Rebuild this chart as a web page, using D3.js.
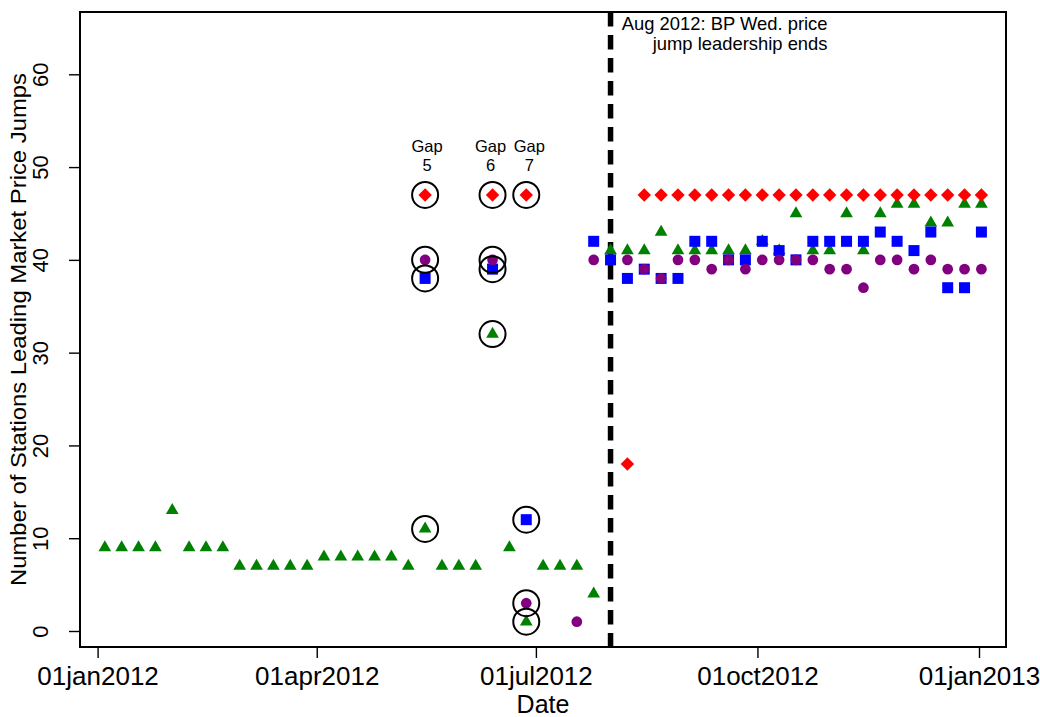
<!DOCTYPE html>
<html><head><meta charset="utf-8">
<script src="https://cdn.jsdelivr.net/npm/d3@7"></script>
<style>
body{margin:0;background:#fff}
svg{display:block}
text{font-family:"Liberation Sans",Arial,Helvetica,sans-serif;fill:#000}
</style>
</head><body>
<svg id="chart" width="1040" height="717"></svg>
<script>
// ---------------- DATA ----------------
const weeks = [
  "2012-01-04","2012-01-11","2012-01-18","2012-01-25","2012-02-01","2012-02-08","2012-02-15","2012-02-22",
  "2012-02-29","2012-03-07","2012-03-14","2012-03-21","2012-03-28","2012-04-04","2012-04-11","2012-04-18",
  "2012-04-25","2012-05-02","2012-05-09","2012-05-16","2012-05-23","2012-05-30","2012-06-06","2012-06-13",
  "2012-06-20","2012-06-27","2012-07-04","2012-07-11","2012-07-18","2012-07-25","2012-08-01","2012-08-08",
  "2012-08-15","2012-08-22","2012-08-29","2012-09-05","2012-09-12","2012-09-19","2012-09-26","2012-10-03",
  "2012-10-10","2012-10-17","2012-10-24","2012-10-31","2012-11-07","2012-11-14","2012-11-21","2012-11-28",
  "2012-12-05","2012-12-12","2012-12-19","2012-12-26","2013-01-02"
];
const greenVals = [
  9,9,9,9,13,9,9,9,
  7,7,7,7,7,8,8,8,
  8,8,7,11,7,7,7,32,
  9,1,7,7,7,4,41,41,
  41,43,41,41,41,41,41,42,
  41,45,41,41,45,41,45,46,
  46,44,44,46,46
];
const blueVals = [
  null,null,null,null,null,null,null,null,
  null,null,null,null,null,null,null,null,
  null,null,null,38,null,null,null,39,
  null,12,null,null,null,42,40,38,
  39,38,38,42,42,40,40,42,
  41,40,42,42,42,42,43,42,
  41,43,37,37,43
];
const purpleVals = [
  null,null,null,null,null,null,null,null,
  null,null,null,null,null,null,null,null,
  null,null,null,40,null,null,null,40,
  null,3,null,null,1,40,null,40,
  39,38,40,40,39,40,39,40,
  40,40,40,39,39,37,40,40,
  39,40,39,39,39
];
const redVals = [
  null,null,null,null,null,null,null,null,
  null,null,null,null,null,null,null,null,
  null,null,null,47,null,null,null,47,
  null,47,null,null,null,null,null,18,
  47,47,47,47,47,47,47,47,
  47,47,47,47,47,47,47,47,
  47,47,47,47,47
];
const gapWeeks = ["2012-05-16","2012-06-13","2012-06-27"];
const gapNumbers = ["5","6","7"];
const xTickDates = ["2012-01-01","2012-04-01","2012-07-01","2012-10-01","2013-01-01"];
const xTickLabels = ["01jan2012","01apr2012","01jul2012","01oct2012","01jan2013"];
const yTicks = [0,10,20,30,40,50,60];
const eventDate = "2012-08-01";
const eventLines = ["Aug 2012: BP Wed. price","jump leadership ends"];
const xTitle = "Date";
const yTitle = "Number of Stations Leading Market Price Jumps";

// ---------------- DRAW ----------------
const parse = d3.timeParse("%Y-%m-%d");
const svg = d3.select("#chart");
const W = 1040, H = 717;
svg.append("rect").attr("width",W).attr("height",H).attr("fill","#fff");

const plot = {left:80, right:1006, top:12, bottom:647};
const x = d3.scaleTime().domain([parse("2012-01-01"), parse("2013-01-01")]).range([97.6, 979]);
const y = d3.scaleLinear().domain([0,60]).range([631, 74.3]);

// frame
svg.append("rect")
  .attr("x",plot.left).attr("y",plot.top)
  .attr("width",plot.right-plot.left).attr("height",plot.bottom-plot.top)
  .attr("fill","none").attr("stroke","#000").attr("stroke-width",2);

// x axis
const xAxis = d3.axisBottom(x)
  .tickValues(xTickDates.map(parse))
  .tickFormat((d,i)=>xTickLabels[i])
  .tickSize(11).tickPadding(0);
const gx = svg.append("g").attr("transform",`translate(0,${plot.bottom})`).call(xAxis);
gx.select(".domain").remove();
gx.selectAll(".tick line").attr("stroke","#000").attr("stroke-width",1.4);
gx.selectAll(".tick text").attr("font-size",26).attr("dy",null).attr("y",38)
  .attr("font-family",'"Liberation Sans",Arial,sans-serif').attr("fill","#000");

// y axis
const yAxis = d3.axisLeft(y).tickValues(yTicks).tickSize(11).tickFormat(d3.format("d"));
const gy = svg.append("g").attr("transform",`translate(${plot.left},0)`).call(yAxis);
gy.select(".domain").remove();
gy.selectAll(".tick line").attr("stroke","#000").attr("stroke-width",1.4);
gy.selectAll(".tick text")
  .attr("x",null).attr("dy",null)
  .attr("transform","translate(-32,0) rotate(-90)")
  .attr("text-anchor","middle")
  .attr("font-size",22)
  .attr("font-family",'"Liberation Sans",Arial,sans-serif').attr("fill","#000");

// axis titles
svg.append("text").attr("x",(plot.left+plot.right)/2).attr("y",713)
  .attr("text-anchor","middle").attr("font-size",25).text(xTitle);
svg.append("text")
  .attr("transform",`translate(26,${(plot.top+plot.bottom)/2}) rotate(-90)`)
  .attr("text-anchor","middle").attr("font-size",22.5)
  .attr("textLength",513).attr("lengthAdjust","spacingAndGlyphs")
  .text(yTitle);

// event line
const ex = x(parse(eventDate));
svg.append("line").attr("x1",ex).attr("x2",ex).attr("y1",plot.top).attr("y2",plot.bottom)
  .attr("stroke","#000").attr("stroke-width",5.5).attr("stroke-dasharray","14.5,8.5");
const evText = svg.append("text").attr("text-anchor","end").attr("font-size",18.4);
eventLines.forEach((t,i)=>{
  evText.append("tspan").attr("x",ex+217).attr("y",30+i*19.5).text(t);
});

// series
function series(vals){
  return weeks.map((w,i)=>({date:parse(w), v:vals[i]})).filter(d=>d.v!==null);
}
const specs = [
  {vals:greenVals,  color:"#008000", sym:d3.symbolTriangle, size:70,  rot:0},
  {vals:blueVals,   color:"#0000ff", sym:d3.symbolSquare,   size:121, rot:0},
  {vals:purpleVals, color:"#800080", sym:d3.symbolCircle,   size:90,  rot:0},
  {vals:redVals,    color:"#ff0000", sym:d3.symbolSquare,   size:90,  rot:45}
];
specs.forEach(s=>{
  svg.append("g").selectAll("path").data(series(s.vals)).join("path")
    .attr("d", d3.symbol().type(s.sym).size(s.size))
    .attr("transform", d=>`translate(${x(d.date)},${y(d.v)}) rotate(${s.rot})`)
    .attr("fill", s.color);
});

// gap circles
const gapSet = new Set(gapWeeks);
const circled = [];
specs.forEach(s=>{
  weeks.forEach((w,i)=>{ if(gapSet.has(w) && s.vals[i]!==null) circled.push({date:parse(w), v:s.vals[i]}); });
});
svg.append("g").selectAll("circle").data(circled).join("circle")
  .attr("cx",d=>x(d.date)).attr("cy",d=>y(d.v)).attr("r",13)
  .attr("fill","none").attr("stroke","#000").attr("stroke-width",2);

// gap labels
const labelShift = [2,-2,3];
gapWeeks.forEach((w,i)=>{
  const gxp = x(parse(w)) + labelShift[i];
  svg.append("text").attr("text-anchor","middle").attr("font-size",16.5)
    .attr("x",gxp).attr("y",152).text("Gap");
  svg.append("text").attr("text-anchor","middle").attr("font-size",16.5)
    .attr("x",gxp).attr("y",171).text(gapNumbers[i]);
});
</script>
</body></html>
